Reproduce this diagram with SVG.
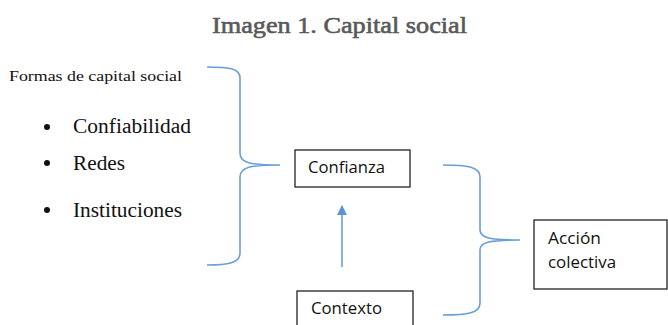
<svg xmlns="http://www.w3.org/2000/svg" width="668" height="325" viewBox="0 0 668 325">
<style>
.title{font-family:"Liberation Serif",serif;font-size:23px;fill:#595959;stroke:#595959;stroke-width:0.6}
.serif{font-family:"Liberation Serif",serif;fill:#111}
.sans{font-family:"Open Sans","Liberation Sans",sans-serif;font-size:16px;fill:#111}
.box{fill:#fff;stroke:#222;stroke-width:1.3}
.brace{fill:none;stroke:#6a9fd8;stroke-width:1.6}
.conn{fill:none;stroke:#6a9fd8;stroke-width:1.6}
</style>
<defs>
<marker id="ah" viewBox="0 0 10 10" refX="9" refY="5" markerWidth="6.5" markerHeight="6.5" orient="auto" markerUnits="strokeWidth">
<path d="M0,0 L10,5 L0,10 Z" fill="#5b95d5"/>
</marker>
</defs>
<rect width="668" height="325" fill="#fff"/>
<text class="title" x="212" y="33" textLength="255" lengthAdjust="spacingAndGlyphs">Imagen 1. Capital social</text>

<g id="formas">
<text class="serif" x="9" y="81" font-size="15" textLength="173" lengthAdjust="spacingAndGlyphs">Formas de capital social</text>
<circle cx="47" cy="127" r="3" fill="#111"/>
<text class="serif" x="73" y="133" font-size="20" textLength="118" lengthAdjust="spacingAndGlyphs">Confiabilidad</text>
<circle cx="47" cy="163" r="3" fill="#111"/>
<text class="serif" x="73" y="170" font-size="20" textLength="52" lengthAdjust="spacingAndGlyphs">Redes</text>
<circle cx="47" cy="210" r="3" fill="#111"/>
<text class="serif" x="73" y="217" font-size="20" textLength="109" lengthAdjust="spacingAndGlyphs">Instituciones</text>
</g>

<g id="confianza">
<rect class="box" x="295" y="150" width="115" height="37"/>
<text class="sans" x="308" y="173" textLength="77" lengthAdjust="spacingAndGlyphs">Confianza</text>
</g>

<g id="contexto">
<rect class="box" x="297" y="291" width="116" height="40"/>
<text class="sans" x="311" y="314" textLength="71" lengthAdjust="spacingAndGlyphs">Contexto</text>
</g>

<g id="accion">
<rect class="box" x="534" y="220" width="133" height="69"/>
<text class="sans" x="548" y="244" textLength="53" lengthAdjust="spacingAndGlyphs">Acción</text>
<text class="sans" x="548" y="268" textLength="68" lengthAdjust="spacingAndGlyphs">colectiva</text>
</g>

<g id="connectors">
<path class="brace" d="M207,67 C228,67 240,68 240,78 L240,153 C240,163 250,165 280,165 C250,165 240,167 240,177 L240,253 C240,263 228,265 207,265"/>
<path class="brace" d="M443,165 C468,165 480,167 480,177 L480,230 C480,238 490,240 520,240 C490,240 480,242 480,250 L480,303 C480,313 468,315 443,315"/>
<line class="conn" x1="342" y1="267" x2="342" y2="206" marker-end="url(#ah)"/>
</g>
</svg>
